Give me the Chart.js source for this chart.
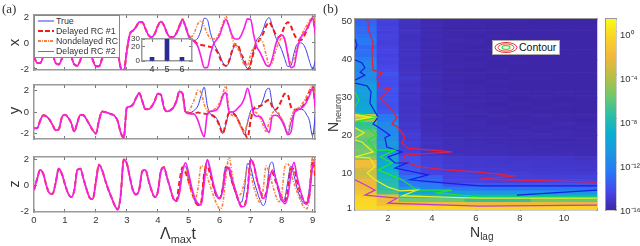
<!DOCTYPE html>
<html>
<head>
<meta charset="utf-8">
<title>Delayed RC</title>
<script src="https://cdn.jsdelivr.net/npm/chart.js@4/dist/chart.umd.min.js"></script>
<style>
  html, body { margin: 0; padding: 0; background: #fff; }
  #page { position: relative; width: 640px; height: 246px; overflow: hidden; font-family: "Liberation Sans", sans-serif; color: #333; filter: blur(0.4px); }
  #page canvas { position: absolute; left: 0; top: 0; }
  .txt { position: absolute; white-space: nowrap; line-height: 1; }
  .serif { font-family: "Liberation Serif", serif; font-size: 13px; }
  .rot { transform: rotate(-90deg); transform-origin: center; }
  #legend { position: absolute; left: 34px; top: 15px; width: 84px; height: 41px; background: #fff; border: 1px solid #888; font-size: 8.8px; color: #333; }
  #legend div { position: absolute; left: 21px; white-space: nowrap; line-height: 1; }
  #legend svg { position: absolute; left: 0; top: 0; }
  #contourKey { position: absolute; left: 492px; top: 40px; width: 66px; height: 13px; background: #fff; border: 1px solid #aaa; font-size: 10.5px; color: #111; }
  #contourKey span { position: absolute; left: 26px; top: 1px; line-height: 1; }
  #contourKey svg { position: absolute; left: 0; top: 0; }
</style>
</head>
<body>
<div id="page">
  <canvas id="chartX" width="640" height="246"></canvas>
  <canvas id="chartY" width="640" height="246"></canvas>
  <canvas id="chartZ" width="640" height="246"></canvas>
  <canvas id="chartHeat" width="640" height="246"></canvas>
  <canvas id="chartBar" width="640" height="246"></canvas>

  <div id="legend">
    <svg width="84" height="41">
      <line x1="3" x2="19" y1="5" y2="5" stroke="#3c3cf0" stroke-width="1"/>
      <line x1="3" x2="19" y1="15" y2="15" stroke="#f01c1c" stroke-width="2" stroke-dasharray="5 2"/>
      <line x1="3" x2="19" y1="25" y2="25" stroke="#f58040" stroke-width="2" stroke-dasharray="3 1 1 1"/>
      <line x1="3" x2="19" y1="35.5" y2="35.5" stroke="#f81ee8" stroke-width="1"/>
    </svg>
    <div style="top:1px">True</div>
    <div style="top:11px">Delayed RC #1</div>
    <div style="top:21px">Nondelayed RC</div>
    <div style="top:31px">Delayed RC #2</div>
  </div>

  <canvas id="chartInset" width="640" height="246"></canvas>

  <div id="contourKey">
    <svg width="26" height="13">
      <ellipse cx="13" cy="6.5" rx="11" ry="5" fill="none" stroke="#e8303c" stroke-width="1"/>
      <ellipse cx="13" cy="6.5" rx="8" ry="3.6" fill="none" stroke="#e8503c" stroke-width="1"/>
      <ellipse cx="13" cy="6.5" rx="4" ry="1.8" fill="none" stroke="#20e040" stroke-width="1.2"/>
    </svg>
    <span>Contour</span>
  </div>

  <div class="txt serif" style="left:2px;top:2px">(a)</div>
  <div class="txt serif" style="left:323px;top:2px">(b)</div>
  <div class="txt rot" style="left:10px;top:35px;font-size:15px">x</div>
  <div class="txt rot" style="left:10px;top:103px;font-size:15px">y</div>
  <div class="txt rot" style="left:10px;top:177px;font-size:14px">z</div>
  <div class="txt" style="left:160px;top:226px;font-size:16px">&Lambda;<span style="font-size:11px;position:relative;top:4px">max</span>t</div>
  <div class="txt" style="left:470px;top:225px;font-size:14px">N<span style="font-size:10px;position:relative;top:3px">lag</span></div>
  <div class="txt rot" style="left:306px;top:106px;font-size:14px;width:54px;text-align:center">N<span style="font-size:9px;position:relative;top:3px">neuron</span></div>
</div>

<script>
// time axis shared by the three panels, in units of Lambda_max t
const timeSteps = [0,0.1,0.2,0.3,0.4,0.5,0.6,0.7,0.8,0.9,1,1.1,1.2,1.3,1.4,1.5,1.6,1.7,1.8,1.9,2,2.1,2.2,2.3,2.4,2.5,2.6,2.7,2.8,2.9,3,3.1,3.2,3.3,3.4,3.5,3.6,3.7,3.8,3.9,4,4.1,4.2,4.3,4.4,4.5,4.6,4.7,4.8,4.9,5,5.1,5.2,5.3,5.4,5.5,5.6,5.7,5.8,5.9,6,6.1,6.2,6.3,6.4,6.5,6.6,6.7,6.8,6.9,7,7.1,7.2,7.3,7.4,7.5,7.6,7.7,7.8,7.9,8,8.1,8.2,8.3,8.4,8.5,8.6,8.7,8.8,8.9,9,9.1];

// all four curves sit on top of each other up to t = 4.6
const xShared = [-1,-1.55,-1.55,-1,-0.4,-0.3,-0.8,-1.55,-1.65,-1.2,-0.5,-0.4,-1,-1.65,-1.75,-1.3,-0.5,-0.3,-0.6,-1.3,-1.8,-1.8,-1.2,-0.4,-0.05,0.05,-0.1,-0.6,-1.9,-2.2,-0.6,0.7,0.95,1.25,1.6,1.6,1.1,0.6,0.45,0.7,1.3,1.65,1.35,0.75,0.45,0.45,0.75];
const yShared = [-1.5,-1.5,-0.8,-0.3,-0.4,-0.7,-1.2,-1.7,-1.6,-0.5,-0.25,-0.5,-1,-1.8,-1,-0.25,-0.3,-0.7,-1.2,-1.7,-2,-0.8,0.05,0,-0.1,-0.2,-0.35,-0.8,-1.9,-2.4,0.4,0.5,0.7,1.3,1.75,1,0.25,0.25,0.5,1,1.7,1.6,0.4,0.05,0.15,0.4,1];
const zShared = [-0.35,0.5,1.2,0.9,0,-0.6,-0.65,0.2,1.3,0.9,0.1,-0.6,-0.9,-0.4,1.2,1.3,0.5,-0.3,-0.95,-1.05,0.3,1.6,1.2,0.4,-0.3,-0.9,-1.5,-1.85,-0.8,2,1.7,0.6,-0.4,-0.7,-0.3,1.1,1.2,0.4,-0.4,-0.9,-0.5,1.1,1.4,0.6,-0.2,-1,-1.2];

// t = 4.7 .. 9.1, where the predictions split
const xTrue = [1.2,1.75,1.25,0.55,0.3,0.2,0.4,1,1.9,1.8,0.8,0.05,-0.45,-0.9,-1.5,-1.8,-1.5,-0.7,-0.2,-0.3,-0.9,-1.6,-1.95,-1.6,-0.5,0.25,0.5,1,1.7,1.95,1.3,0.5,0,-0.5,-1.2,-1.8,-1.75,-0.8,-0.1,0,-0.1,-0.6,-1.4,-2,-1.3];
const xDelayed1 = [1.3,1.75,1.25,0.55,0.25,0.1,-0.1,-0.15,-0.2,-0.25,-0.3,-0.4,-0.6,-1.1,-1.6,-1.75,-1.4,-0.6,-0.1,-0.2,-0.9,-1.3,-2.1,-1.6,-0.7,-0.1,0.3,0.7,1.3,1.6,1.2,0.7,0.45,0.7,1.3,1.6,1.3,0.7,0.3,0.2,0.4,0.9,1.5,1.9,0.8];
const xNondelayed = [1.4,1.85,1.3,0.6,0.5,0.9,1.5,1.7,1.3,0.7,0.35,0.3,0.4,0.8,1.5,2.05,1.3,0.4,-0.2,-0.5,-1.1,-1.7,-1.7,-0.9,-0.3,0.1,0.25,0,-0.9,-1.7,-1.5,-0.7,0,0.35,0.2,-0.8,-1.55,-1.2,-0.3,0.4,0.9,1.3,1.7,2,1.3];
const xDelayed2 = [1.3,1.8,1.2,0.5,0.25,0.05,-0.3,-1.1,-1.9,-1.9,-0.9,-0.1,0.25,0.6,1.3,1.8,1.3,0.6,0.3,0.3,0.6,1.2,1.85,1.8,0.6,-0.3,-0.7,-1.2,-1.7,-1.8,-1.2,-0.2,0.4,0.6,0.3,-0.9,-1.9,-1.8,-0.6,0.3,0.7,1,1.5,1.9,0.6];

const yTrue = [1.9,1.6,-0.05,-0.1,0,0.2,0.6,1.5,2.3,0.6,-0.2,-0.3,-0.6,-1.2,-2,-1.2,-0.1,0,-0.2,-0.7,-1.4,-2.1,-1,0.1,0.3,0.3,0.5,1.1,2,2.2,0.7,0.1,-0.2,-0.6,-1.2,-2.1,-1,-0.1,0.15,0.25,0.2,-0.2,-0.8,-2.2,0];
const yDelayed1 = [1.9,1.7,-0.05,-0.1,-0.15,-0.1,-0.05,-0.1,-0.15,-0.2,-0.25,-0.4,-0.7,-1.3,-2,-1,-0.1,-0.1,-0.3,-0.8,-1.4,-1.9,-2.4,-0.8,0.3,0.5,0.55,0.7,1,1.1,0.5,0.2,0.5,1.1,1.7,1.6,0.5,0.2,0.25,0.35,0.6,1.1,1.9,2.4,0.3];
const yNondelayed = [2,1.6,0,0.05,0.6,1.3,2,1.8,0.7,0.1,0.1,0.2,0.4,0.9,1.7,2.4,0.3,-0.3,-0.4,-0.8,-1.5,-1.9,-0.9,-0.1,0,-0.1,-0.5,-1.2,-1.8,-0.9,-0.1,0.05,-0.1,-0.6,-1.3,-1.9,-0.6,0.1,0.3,0.5,0.9,1.4,2,2.5,0.5];
const yDelayed2 = [1.9,1.7,0,-0.15,-0.15,-0.25,-0.8,-1.7,-2.3,-0.2,0.05,0.1,0.2,0.6,1.5,1.8,0,0,0.1,0.4,0.7,1.3,2.2,1.2,-0.2,-0.4,-0.4,-0.8,-1.5,-1.9,-0.4,-0.3,-0.4,-0.8,-1.4,-2.1,-1.9,-0.2,0.15,0.3,0.5,0.9,1.5,2.2,0.3];

const zTrue = [-0.3,1.4,1.5,0.5,-0.4,-1.2,-1.55,-1.4,0.9,1.95,1,-0.1,-0.9,-1,-0.1,1.5,1.2,0.2,-0.5,-1.2,-1.3,-0.3,1.7,1.4,0.4,-0.4,-1.1,-1.55,-1,1.4,1.8,0.7,-0.4,-1.2,-1,0.3,1.5,0.8,-0.2,-0.9,-1.35,-1.4,-0.2,1.8,1.3];
const zDelayed1 = [0.3,1.4,1,0.3,-0.5,-1.2,-1.5,-1.3,0.9,1.5,0.8,-0.1,-0.8,-1,-0.2,1.4,1.2,0.3,-0.4,-1.1,-1.6,-1.55,-0.4,2,1.6,0.5,-0.3,-0.9,-0.6,0.6,1,0.4,-0.3,-0.9,-1.2,-0.4,1.3,1.3,0.3,-0.5,-1.1,-1.4,-0.6,1.9,0.5];
const zNondelayed = [-0.5,1.2,1.4,0.2,-0.6,-1.1,-0.2,1.5,1.5,0.7,-0.1,-0.8,-1.4,-1.8,-1.4,0.6,2.2,0.9,-0.3,-0.75,-0.6,0.3,1.35,0.9,-0.1,-0.9,-1.3,-0.4,1.5,1,0.1,-0.7,-1.25,-0.8,1.4,1.7,1,0.2,-0.5,-1.1,-1.6,-1.8,-1,2.2,0.9];
const zDelayed2 = [-0.6,1.1,1.75,0.9,-0.2,-1,-1.4,-1.5,0.2,2,1.2,0.1,-0.7,-1,-0.4,1.2,1.4,0.5,-0.3,-1.1,-1.65,-1.6,-0.6,2,1.6,0.5,-0.4,-1,-0.7,0.4,1.2,0.6,-0.2,-1,-1.4,-0.9,0.8,1.8,0.7,-0.3,-1.1,-1.45,-0.8,1.4,1.8];

// inset histogram
const insetLabels = [4, 5, 6];
const insetCounts = [5, 30, 5];
const insetYTicks = [0, 20, 30];

// heat map: log10 error per N_lag column, N_neuron = 1 .. 50
const lag1 = [-0.3,-0.4,-0.5,-0.8,-1.6,-2.2,-2.4,-2.5,-3.2,-3.6,-3.3,-2,-2.1,-5.3,-6,-5.7,-6,-6.5,-6.2,-5.8,-6,-7.3,-7.6,-4.5,-2,-9.5,-10,-10.2,-10.4,-10.3,-10.5,-10.3,-10.6,-11.4,-11.8,-11.6,-12,-11.7,-11.9,-12.3,-13.2,-13,-13.4,-12.8,-12.7,-13,-13.4,-13.2,-13.5,-13.6];
const lag2 = [-0.6,-2,-2.3,-2.6,-7,-7.6,-7.8,-8.2,-8.5,-8.8,-9.4,-9.6,-9.8,-10.6,-10.9,-11,-11.1,-10.9,-11.4,-11.8,-11.9,-11.7,-11.9,-12.6,-12.9,-14,-14.2,-14.3,-14.1,-14.2,-14.3,-14.1,-14.4,-14.3,-14.4,-14.1,-14.5,-14.6,-14.8,-14.7,-14.9,-14.7,-14.8,-15,-14.9,-14.8,-15,-14.9,-15,-14.9];
const lag3 = [-0.6,-2.2,-5.8,-7.5,-9.8,-10.8,-12.4,-12.8,-13,-13.9,-14,-14.1,-14.2,-14.3,-14.8,-15,-15.1,-15,-15.2,-15.1,-15.2,-15.4,-15.3,-15.5,-15.5,-15.6,-15.5,-15.6,-15.6,-15.5,-15.6,-15.4,-15.6,-15.5,-15.3,-15.6,-15.6,-15.7,-15.6,-15.7,-15.6,-15.7,-15.7,-15.6,-15.7,-15.7,-15.6,-15.7,-15.7,-15.6];
const lag4 = [-0.5,-2.2,-5.8,-8.3,-10.5,-12.3,-12.4,-13.5,-13.7,-14.8,-14.8,-14.9,-15,-15,-15.5,-15.5,-15.7,-15.6,-15.7,-15.8,-15.9,-15.8,-15.9,-16,-15.9,-16,-16,-15.9,-16,-16,-16,-15.9,-16,-16,-15.9,-16,-16,-16.1,-16,-16.1,-16,-16.1,-16.1,-16,-16.1,-16,-16.1,-16.1,-16,-16.1];
const lag5 = [-0.5,-2.2,-6,-9,-11,-12.8,-14,-14.7,-14.8,-14.9,-15.2,-15.2,-15.3,-15.3,-15.7,-15.8,-15.8,-15.9,-15.9,-16,-16,-16,-16.1,-16,-16.1,-16.1,-16,-16.1,-16.1,-16.2,-16.1,-16.2,-16.1,-16.2,-16.1,-16.2,-16.2,-16.1,-16.2,-16.2,-16.2,-16.3,-16.2,-16.2,-16.1,-16.2,-16.2,-16.3,-16.2,-16.2];
const lag6 = [-0.5,-2.3,-7.4,-9,-11.1,-12.9,-14,-14.7,-14.9,-15,-15.2,-15.3,-15.3,-15.4,-15.8,-15.8,-15.9,-15.9,-16,-16,-16.1,-16.1,-16,-16.1,-16.2,-16.1,-16.2,-16.2,-16.1,-16.2,-16.2,-16.2,-16.2,-16.3,-16.2,-16.2,-16.3,-16.2,-16.2,-16.3,-16.2,-16.3,-16.3,-16.2,-16.2,-16.3,-16.2,-16.3,-16.2,-16.2];
const lag7 = [-0.5,-2.3,-7.5,-9.1,-11,-13,-14.1,-14.8,-14.9,-15.1,-15.2,-15.3,-15.4,-15.4,-15.8,-15.9,-15.9,-16,-16,-16.1,-16.1,-16,-16.2,-16.2,-16.1,-16.2,-16.2,-16.3,-16.2,-16.2,-16.3,-16.2,-16.3,-16.2,-16.3,-16.3,-16.2,-16.3,-16.3,-16.2,-16.3,-16.3,-16.2,-16.3,-16.3,-16.2,-16.3,-16.3,-16.3,-16.2];
const lag8 = [-0.6,-2.4,-7.4,-9,-11,-13,-14.1,-14.8,-15,-15.1,-15.3,-15.3,-15.4,-15.5,-15.9,-15.9,-16,-16,-16.1,-16.1,-16,-16.2,-16.1,-16.2,-16.2,-16.2,-16.3,-16.2,-16.3,-16.3,-16.2,-16.3,-16.3,-16.3,-16.2,-16.3,-16.3,-16.3,-16.2,-16.3,-16.3,-16.3,-16.3,-16.2,-16.3,-16.3,-16.3,-16.3,-16.3,-16.2];
const lag9 = [-0.6,-2.4,-6,-9.1,-11.1,-13,-14.1,-14.8,-15,-15.2,-15.3,-15.4,-15.4,-15.5,-15.9,-16,-16,-16.1,-16.1,-16,-16.2,-16.1,-16.2,-16.2,-16.1,-16.3,-16.2,-16.3,-16.3,-16.2,-16.3,-16.3,-16.3,-16.3,-16.2,-16.3,-16.3,-16.3,-16.3,-16.3,-16.3,-16.2,-16.3,-16.3,-16.3,-16.3,-16.3,-16.3,-16.3,-16.3];
const lag10 = [-0.6,-2.5,-6,-9.1,-11.2,-13,-14.2,-14.8,-15,-15.2,-15.3,-15.4,-15.5,-15.5,-15.9,-16,-16.1,-16,-16.2,-16.1,-16.1,-16.2,-16,-16.2,-16.2,-16.3,-16.3,-16.2,-16.3,-16.3,-16.2,-16.3,-16.3,-16.3,-16.3,-16.3,-16.3,-16.3,-16.3,-16.3,-16.3,-16.3,-16.3,-16.3,-16.3,-16.3,-16.3,-16.3,-16.3,-16.3];
const lag11 = [-0.7,-2.5,-6,-9.2,-11.2,-13.1,-14.2,-14.9,-15,-15.2,-15.4,-15.4,-15.5,-15.6,-16,-16,-16.1,-16.1,-16.1,-16.2,-16.2,-16.1,-16.2,-16.3,-16.2,-16.3,-16.3,-16.3,-16.3,-16.2,-16.3,-16.3,-16.3,-16.3,-16.3,-16.3,-16.3,-16.3,-16.3,-16.3,-16.3,-16.3,-16.3,-16.3,-16.3,-16.3,-16.3,-16.3,-16.3,-16.3];
const lagColumns = [lag1, lag2, lag3, lag4, lag5, lag6, lag7, lag8, lag9, lag10, lag11];
const neuronRows = [1,2,3,4,5,6,7,8,9,10,11,12,13,14,15,16,17,18,19,20,21,22,23,24,25,26,27,28,29,30,31,32,33,34,35,36,37,38,39,40,41,42,43,44,45,46,47,48,49,50];
const lagValues = [1,2,3,4,5,6,7,8,9,10,11];

const redLag = [0.99,1.18,1.09,1.32,1.27,1.32,1.73,1.5,1.59,2.09,1.64,2,2.41,2.18,2.45,2.77,2.64,2.91,4.91,2.77,2.68,3.45,4.68,6.18,7.77,6.18,11.5];
const redNeuron = [50.5,49.5,47.9,44.5,41.1,37.1,36.4,35.1,32.7,32.2,29.8,28,24.8,23,22.2,19.6,18,16.7,15.7,14.9,13.3,11.8,11,10.4,9.4,8.6,7.8];
const blueLag = [0.5,1.05,1.23,1.18,1.41,1.55,1.32,1.55,2.09,1.86,1.95,2.64,2,2.32,2.86,2.32,3.82,3,4.5,6.18,11.5];
const blueNeuron = [33.7,33,31.4,28.5,26.2,24.8,23,22.2,20.1,19.4,17,15.7,14.4,12.8,12.8,11.5,9.7,8.4,7.6,6.8,6.8];
const blueTopLag = [0.5,0.59,0.5];
const blueTopNeuron = [45.3,43.7,42.4];
const blueMidLag = [0.5,0.82,0.95,0.73,0.95,0.5];
const blueMidNeuron = [39.8,39,37.7,36.6,35.8,34.5];
const blueLowLag = [7.86,11.5];
const blueLowNeuron = [4.4,5.7];
const greenLag = [0.73,1.05,1.5,1.09,1.41,2.32,1.64,2.18,1.55,2.64,3.32,4.91,4.23,6.14,11.5];
const greenNeuron = [23.5,22,20.1,18.8,16.2,16.2,14.4,12.8,11,8.4,5.7,5.7,5,3.9,3.9];
const greenTopLag = [0.5,0.68,0.5];
const greenTopNeuron = [31.4,29.3,27.5];
const greenLobeLag = [0.5,1.5,0.5];
const greenLobeNeuron = [25.9,24.8,23.5];
const yellowLag = [0.5,0.82,1.32,0.5,1.18,1.41,1.05,1.41,2,2.55,3.32,2.64,6.14,11.5];
const yellowNeuron = [18.8,18.3,15.7,14.4,14.1,11.8,10.2,8.4,6.5,5.5,5.7,4.2,3.6,3.6];
const yellowLobeLag = [0.5,1.27,0.5];
const yellowLobeNeuron = [25.4,24.8,24.1];
const yellowMidLag = [0.5,0.91,0.5];
const yellowMidNeuron = [22,20.7,19.3];
const magentaLag = [0.5,0.95,1.41,0.95,2.41,2,6.14,11.5];
const magentaNeuron = [8.4,7.1,5.7,4.4,3.6,2.3,1.5,1.8];

// tick labels
const panelYTicks = [-2, 0, 2];
const panelXTicks = [0, 1, 2, 3, 4, 5, 6, 7, 8, 9];
const heatXTicks = [2, 4, 6, 8, 10];
const heatYTicks = [1, 10, 20, 30, 40, 50];
const colorbarTicks = [0, -4, -8, -12, -16];
const colorbarLabels = ['10\u2070', '10\u207B\u2074', '10\u207B\u2078', '10\u207B\u00B9\u00B2', '10\u207B\u00B9\u2076'];

// parula colour map
const parula = [[62,38,168],[71,71,235],[40,120,247],[30,150,225],[10,175,210],[45,190,165],[115,200,105],[185,190,70],[240,185,60],[250,210,40],[249,251,21]];
const logMin = -16.3;
const logMax = 1.1;

function parulaColor(e) {
    let f = (e - logMin) / (logMax - logMin) * (parula.length - 1);
    f = Math.max(0, Math.min(parula.length - 1.001, f));
    const i = Math.floor(f);
    const c = parula[i].map((v, k) => Math.round(v + (parula[i + 1][k] - v) * (f - i)));
    return 'rgb(' + c.join(',') + ')';
}

const FRAME = '#999';
const TICK_FONT = { family: '"Liberation Sans", sans-serif', size: 9.5 };
const setTicks = (values) => (s) => { s.ticks = values.map((v) => ({ value: v })); };

// plot box in page pixels: the outer axes take what is left of the canvas
function baseOptions(scales, top, right) {
    return {
        responsive: false,
        animation: false,
        events: [],
        layout: { autoPadding: false, padding: { top: top, right: 640 - right, left: 0, bottom: 0 } },
        plugins: { legend: { display: false }, tooltip: { enabled: false } },
        scales: scales
    };
}

// same frame on all sides, ticks pointing inwards
function axisY(min, max, values, left) {
    return {
        min: min, max: max, position: 'left', afterFit: (s) => { s.width = left; }, afterBuildTicks: setTicks(values),
        border: { color: FRAME, width: 1.5 },
        grid: { drawOnChartArea: false, tickLength: -3, color: '#777' },
        ticks: { font: TICK_FONT, color: '#333', padding: 8, autoSkip: false, maxRotation: 0, callback: (v) => v }
    };
}
function axisX(min, max, values, bottom, showLabels) {
    return {
        type: 'linear', min: min, max: max, position: 'bottom', offset: false, afterFit: (s) => { s.height = 246 - bottom; }, afterBuildTicks: setTicks(values),
        border: { color: FRAME, width: 1.5 },
        grid: { drawOnChartArea: false, tickLength: -3, color: '#777', offset: false },
        ticks: { display: showLabels, font: TICK_FONT, color: '#333', padding: 6, autoSkip: false, maxRotation: 0, callback: (v) => v }
    };
}
function mirror(axis, position) {
    return Object.assign({}, axis, {
        position: position,
        ticks: { display: false },
        afterFit: (s) => { if (position === 'top') s.height = 0; else s.width = 0; }
    });
}

function curve(label, shared, tail, color, width, dash, order) {
    const values = shared.concat(tail);
    return {
        label: label,
        order: order,
        data: timeSteps.map((t, i) => ({ x: t, y: values[i] })),
        borderColor: color,
        borderWidth: width,
        borderDash: dash,
        pointRadius: 0,
        cubicInterpolationMode: 'monotone'
    };
}

function panel(id, shared, tTrue, tD1, tN, tD2, top, bottom, yMin, yMax, showLabels) {
    const xa = axisX(0, 9.08, panelXTicks, bottom, showLabels);
    const ya = axisY(yMin, yMax, panelYTicks, 34);
    new Chart(document.getElementById(id), {
        type: 'line',
        data: {
            datasets: [
                curve('True', shared, tTrue, '#3c3cf0', 1, [], 3),
                curve('Delayed RC #1', shared, tD1, '#f01c1c', 2, [5, 3], 2),
                curve('Nondelayed RC', shared, tN, '#f58040', 1.6, [3, 1.5, 1, 1.5], 1),
                curve('Delayed RC #2', shared, tD2, '#f81ee8', 1.6, [], 0)
            ]
        },
        options: baseOptions({ x: xa, x2: mirror(xa, 'top'), y: ya, y2: mirror(ya, 'right') }, top, 315)
    });
}

panel('chartX', xShared, xTrue, xDelayed1, xNondelayed, xDelayed2, 15, 70, -2.08, 2.15, false);
panel('chartY', yShared, yTrue, yDelayed1, yNondelayed, yDelayed2, 85, 139, -2.5, 2.5, false);
panel('chartZ', zShared, zTrue, zDelayed1, zNondelayed, zDelayed2, 157, 212, -2.05, 2.2, true);

// inset
const whiteArea = {
    id: 'whiteArea',
    beforeDraw(chart) {
        const a = chart.chartArea;
        chart.ctx.fillStyle = '#fff';
        chart.ctx.fillRect(a.left, a.top, a.width, a.height);
    }
};
const insetX = axisX(3.33, 6.67, insetLabels, 61, true);
insetX.ticks.font = { family: TICK_FONT.family, size: 9 };
const insetY = axisY(0, 30, insetYTicks, 142);
insetY.ticks.font = { family: TICK_FONT.family, size: 8 };
insetY.ticks.padding = 5;
new Chart(document.getElementById('chartInset'), {
    type: 'bar',
    data: { datasets: [{ data: insetLabels.map((v, i) => ({ x: v, y: insetCounts[i] })), backgroundColor: '#2b2b96', barThickness: 4 }] },
    options: baseOptions({ x: insetX, x2: mirror(insetX, 'top'), y: insetY, y2: mirror(insetY, 'right') }, 39, 192),
    plugins: [whiteArea]
});

// heat map, one floating bar per cell, contours on top
function contour(lags, neurons, color) {
    return {
        type: 'line',
        order: 0,
        data: lags.map((v, i) => ({ x: v, y: neurons[i] })),
        borderColor: color,
        borderWidth: 1.2,
        pointRadius: 0,
        tension: 0
    };
}
const heatDatasets = neuronRows.map((n, r) => ({
    type: 'bar',
    order: 1,
    grouped: false,
    barPercentage: 1,
    categoryPercentage: 1,
    data: lagValues.map((lag) => ({ x: lag, y: [n - 0.5, n + 0.5] })),
    backgroundColor: lagColumns.map((col) => parulaColor(col[r]))
}));
const RED = '#e6203c', BLUE = '#1420e6', GREEN = '#1ee628', YELLOW = '#e8ee28', MAGENTA = '#c03cc8';
const heatX = axisX(0.5, 11.5, heatXTicks, 210, true);
const heatY = axisY(0.5, 50.5, heatYTicks, 355);
heatY.ticks.padding = 6;
new Chart(document.getElementById('chartHeat'), {
    data: {
        datasets: heatDatasets.concat([
            contour(magentaLag, magentaNeuron, MAGENTA),
            contour(yellowLag, yellowNeuron, YELLOW),
            contour(yellowLobeLag, yellowLobeNeuron, YELLOW),
            contour(yellowMidLag, yellowMidNeuron, YELLOW),
            contour(greenLag, greenNeuron, GREEN),
            contour(greenTopLag, greenTopNeuron, GREEN),
            contour(greenLobeLag, greenLobeNeuron, GREEN),
            contour(blueLag, blueNeuron, BLUE),
            contour(blueTopLag, blueTopNeuron, BLUE),
            contour(blueMidLag, blueMidNeuron, BLUE),
            contour(blueLowLag, blueLowNeuron, BLUE),
            contour(redLag, redNeuron, RED)
        ])
    },
    options: baseOptions({ x: heatX, x2: mirror(heatX, 'top'), y: heatY, y2: mirror(heatY, 'right') }, 19, 597)
});

// colour bar
const barY = axisY(logMin, logMax, colorbarTicks, 606);
barY.ticks.display = false;
const barLabels = axisY(logMin, logMax, colorbarTicks, 24);
barLabels.position = 'right';
barLabels.ticks.callback = (v) => colorbarLabels[colorbarTicks.indexOf(v)];
barLabels.ticks.padding = 7;
barLabels.ticks.align = 'start';
const barX = axisX(0, 2, [], 210, false);
new Chart(document.getElementById('chartBar'), {
    type: 'bar',
    data: {
        datasets: [{
            data: [{ x: 1, y: [logMin, logMax] }],
            barPercentage: 1,
            categoryPercentage: 1,
            backgroundColor(ctx) {
                const a = ctx.chart.chartArea;
                if (!a) return parulaColor(0);
                const g = ctx.chart.ctx.createLinearGradient(0, a.bottom, 0, a.top);
                parula.forEach((c, i) => g.addColorStop(i / (parula.length - 1), 'rgb(' + c.join(',') + ')'));
                return g;
            }
        }]
    },
    options: baseOptions({ x: barX, x2: mirror(barX, 'top'), y: barY, y2: barLabels }, 19, 640)
});
</script>
</body>
</html>
